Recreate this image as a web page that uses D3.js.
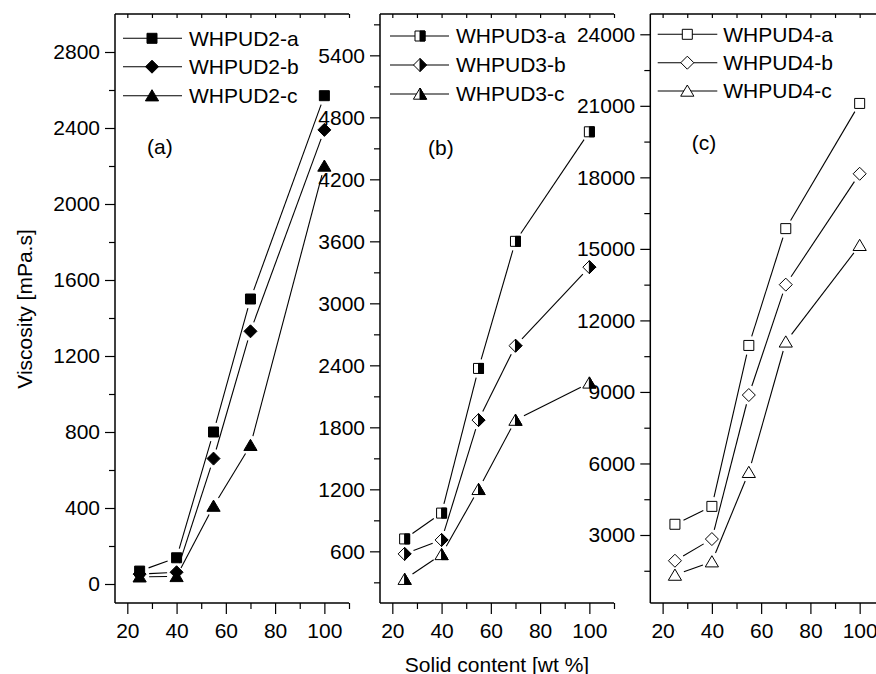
<!DOCTYPE html>
<html><head><meta charset="utf-8">
<script src="https://cdn.jsdelivr.net/npm/d3@7"></script>
<style>body{margin:0;background:#fff}svg{display:block;font-family:"Liberation Sans",Arial,sans-serif}</style>
</head><body><svg id="c" width="876" height="674"></svg>
<script>
// ---- data ----
const solidContent = [25, 40, 55, 70, 100];
const xTickValues = [20, 40, 60, 80, 100];
const xMinorValues = [30, 50, 70, 90, 110];
const whpud2a = [68, 138, 800, 1500, 2570];
const whpud2b = [52, 62, 660, 1330, 2390];
const whpud2c = [38, 40, 410, 730, 2200];
const whpud3a = [720, 970, 2370, 3600, 4660];
const whpud3b = [575, 710, 1870, 2590, 3350];
const whpud3c = [330, 570, 1200, 1870, 2230];
const whpud4a = [3450, 4200, 10950, 15850, 21100];
const whpud4b = [1920, 2830, 8870, 13500, 18150];
const whpud4c = [1320, 1880, 5630, 11100, 15150];
const yTicksA = [0, 400, 800, 1200, 1600, 2000, 2400, 2800];
const yMinorA = [200, 600, 1000, 1400, 1800, 2200, 2600];
const yTicksB = [600, 1200, 1800, 2400, 3000, 3600, 4200, 4800, 5400];
const yMinorB = [300, 900, 1500, 2100, 2700, 3300, 3900, 4500, 5100, 5700];
const yTicksC = [3000, 6000, 9000, 12000, 15000, 18000, 21000, 24000];
const yMinorC = [1500, 4500, 7500, 10500, 13500, 16500, 19500, 22500];
const namesA = ["WHPUD2-a", "WHPUD2-b", "WHPUD2-c"];
const namesB = ["WHPUD3-a", "WHPUD3-b", "WHPUD3-c"];
const namesC = ["WHPUD4-a", "WHPUD4-b", "WHPUD4-c"];
const panelLabels = ["(a)", "(b)", "(c)"];
const xTitle = "Solid content [wt %]";
const yTitle = "Viscosity [mPa.s]";

const svg = d3.select("#c");
const FS = 21;
const shapes = ["square", "diamond", "triangle"];

const panels = [
  {x0:115, x1:349, xDom:[15,110], yDom:[-100,3000], yTicks:yTicksA, yMinor:yMinorA,
   series:[whpud2a, whpud2b, whpud2c], names:namesA, fill:"solid", label:panelLabels[0], lab:[147,154],
   leg:{lx0:123, lx1:182, mx:152, tx:189, rows:[38.3, 66.7, 95.7]}},
  {x0:380, x1:614, xDom:[15,110], yDom:[100,5800], yTicks:yTicksB, yMinor:yMinorB,
   series:[whpud3a, whpud3b, whpud3c], names:namesB, fill:"half", label:panelLabels[1], lab:[428,155],
   leg:{lx0:390, lx1:449, mx:420, tx:456, rows:[36, 65, 94]}},
  {x0:650.3, x1:884.3, xDom:[15,110], yDom:[148,24851], yTicks:yTicksC, yMinor:yMinorC,
   series:[whpud4a, whpud4b, whpud4c], names:namesC, fill:"open", label:panelLabels[2], lab:[691.7,150],
   leg:{lx0:657.7, lx1:717.3, mx:687.3, tx:723.3, rows:[34.3, 62.7, 91]}}
];

const Y0 = 603, Y1 = 14;

function shapePts(shape) {
  if (shape === "square") return [[-5,-5],[5,-5],[5,5],[-5,5]];
  if (shape === "diamond") return [[0,-6.5],[6.5,0],[0,6.5],[-6.5,0]];
  return [[0,-6],[6.6,5.2],[-6.6,5.2]];
}
function halfPts(shape) {
  if (shape === "square") return [[0,-5],[5,-5],[5,5],[0,5]];
  if (shape === "diamond") return [[0,-6.5],[6.5,0],[0,6.5]];
  return [[0,-6],[6.6,5.2],[0,5.2]];
}
function drawMarker(g, shape, mode, cx, cy) {
  const m = g.append("g").attr("transform", `translate(${cx},${cy})`);
  const full = shapePts(shape).map(p => p.join(",")).join(" ");
  m.append("polygon").attr("points", full)
    .attr("fill", mode === "solid" ? "#000" : "#fff")
    .attr("stroke", "#000").attr("stroke-width", 1).attr("stroke-linejoin", "miter");
  if (mode === "half") {
    m.append("polygon").attr("points", halfPts(shape).map(p => p.join(",")).join(" "))
      .attr("fill", "#000").attr("stroke", "#000").attr("stroke-width", 1);
  }
}

panels.forEach(p => {
  const x = d3.scaleLinear().domain(p.xDom).range([p.x0, p.x1]);
  const y = d3.scaleLinear().domain(p.yDom).range([Y0, Y1]);
  const g = svg.append("g");

  // left axis
  const ax = g.append("g").attr("transform", `translate(${p.x0},0)`);
  ax.call(d3.axisLeft(y).tickValues(p.yTicks).tickSize(10).tickPadding(5).tickFormat(d3.format("d")));
  ax.append("g").call(d3.axisLeft(y).tickValues(p.yMinor).tickSize(6).tickFormat(""));
  // bottom axis
  const bx = g.append("g").attr("transform", `translate(0,${Y0})`);
  bx.call(d3.axisBottom(x).tickValues(xTickValues).tickSize(11).tickPadding(9).tickFormat(d3.format("d")));
  bx.append("g").call(d3.axisBottom(x).tickValues(xMinorValues).tickSize(6).tickFormat(""));
  // top line with inner ticks
  const tx = g.append("g").attr("transform", `translate(0,${Y1})`);
  tx.call(d3.axisTop(x).tickValues(xTickValues.concat(xMinorValues)).tickSize(-4).tickFormat(""));

  g.selectAll(".domain").attr("stroke", "#000").attr("stroke-width", 1.5);
  g.selectAll(".tick line").attr("stroke", "#000").attr("stroke-width", 1.2);
  g.selectAll(".tick text").attr("font-size", FS).attr("fill", "#000")
    .attr("font-family", '"Liberation Sans",Arial,sans-serif');
  // remove outer ticks of domain path: redraw as straight lines
  g.selectAll(".domain").remove();
  g.append("line").attr("x1", p.x0).attr("x2", p.x0).attr("y1", Y1).attr("y2", Y0)
    .attr("stroke", "#000").attr("stroke-width", 1.5);
  g.append("line").attr("x1", p.x0).attr("x2", p.x1).attr("y1", Y0).attr("y2", Y0)
    .attr("stroke", "#000").attr("stroke-width", 1.5);
  g.append("line").attr("x1", p.x0).attr("x2", p.x1).attr("y1", Y1).attr("y2", Y1)
    .attr("stroke", "#000").attr("stroke-width", 1.5);

  // series lines with gaps at markers
  const GAP = 9.5;
  p.series.forEach((vals, si) => {
    const pts = solidContent.map((s, i) => [x(s), y(vals[i])]);
    for (let i = 0; i < pts.length - 1; i++) {
      const [ax0, ay0] = pts[i], [ax1, ay1] = pts[i+1];
      const dx = ax1 - ax0, dy = ay1 - ay0, L = Math.hypot(dx, dy);
      if (L <= 2 * GAP) continue;
      const ux = dx / L, uy = dy / L;
      g.append("line")
        .attr("x1", ax0 + ux * GAP).attr("y1", ay0 + uy * GAP)
        .attr("x2", ax1 - ux * GAP).attr("y2", ay1 - uy * GAP)
        .attr("stroke", "#000").attr("stroke-width", 1.1);
    }
  });
  // markers
  p.series.forEach((vals, si) => {
    solidContent.forEach((s, i) => drawMarker(g, shapes[si], p.fill, x(s), y(vals[i])));
  });

  // legend
  p.names.forEach((n, i) => {
    const ry = p.leg.rows[i];
    g.append("line").attr("x1", p.leg.lx0).attr("x2", p.leg.lx1).attr("y1", ry).attr("y2", ry)
      .attr("stroke", "#000").attr("stroke-width", 1.1);
    drawMarker(g, shapes[i], p.fill, p.leg.mx, ry);
    g.append("text").attr("x", p.leg.tx).attr("y", ry + 7.3).attr("font-size", FS).text(n);
  });

  // panel label
  g.append("text").attr("x", p.lab[0]).attr("y", p.lab[1]).attr("font-size", FS).text(p.label);
});

// axis titles
svg.append("text").attr("x", 497).attr("y", 671.5).attr("text-anchor", "middle")
  .attr("font-size", FS).text(xTitle);
svg.append("text").attr("transform", "translate(31.5,309) rotate(-90)").attr("text-anchor", "middle")
  .attr("font-size", FS).text(yTitle);
</script></body></html>
